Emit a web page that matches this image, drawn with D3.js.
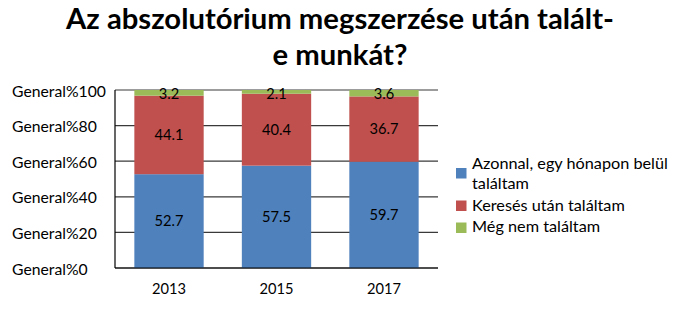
<!DOCTYPE html>
<html><head><meta charset="utf-8">
<script src="https://cdn.jsdelivr.net/npm/d3@7"></script>
<style>body{margin:0;background:#fff}svg{display:block}</style>
</head><body>
<svg id="c" width="680" height="310"></svg>
<script>
const years = ["2013", "2015", "2017"];
const seriesNames = ["Azonnal, egy hónapon belül találtam", "Keresés után találtam", "Még nem találtam"];
const legendLines = [["Azonnal, egy hónapon belül", "találtam"], ["Keresés után találtam"], ["Még nem találtam"]];
const immediate = [52.7, 57.5, 59.7];
const afterSearch = [44.1, 40.4, 36.7];
const notYet = [3.2, 2.1, 3.6];
const yTicks = [0, 20, 40, 60, 80, 100];
const tickLabels = ["General%0", "General%20", "General%40", "General%60", "General%80", "General%100"];
const colors = ["#4F81BD", "#C0504D", "#9BBB59"];
const title = ["Az abszolutórium megszerzése után talált-", "e munkát?"];

const font = "Lato, 'Open Sans', 'Liberation Sans', sans-serif";
const svg = d3.select("#c");
const pLeft = 115, pRight = 438, pTop = 90, pBottom = 268;

function fitSize(txt, target, weight) {
  const t = svg.append("text").attr("font-family", font).attr("font-size", 100)
    .attr("font-weight", weight || "normal").text(txt);
  const w = t.node().getComputedTextLength();
  t.remove();
  return 100 * target / w;
}
const titleSize = fitSize(title[0], 548, "bold");
const tickSize = fitSize(tickLabels[5], 94);
const legendSize = fitSize(legendLines[0][0], 196);
const numSize = fitSize(years[0], 34);

const x = d3.scaleBand().domain(years).range([pLeft, pRight]).paddingInner(0.355).paddingOuter(0.18);
const y = d3.scaleLinear().domain([0, 100]).range([pBottom, pTop]);

svg.append("g").selectAll("text").data(title).join("text")
  .attr("x", 340).attr("y", (d, i) => 29 + i * 36)
  .attr("text-anchor", "middle").attr("font-family", font)
  .attr("font-weight", "bold").attr("font-size", titleSize).attr("fill", "#000").text(d => d);

// gridlines
svg.append("g").selectAll("line").data(yTicks).join("line")
  .attr("x1", pLeft).attr("x2", pRight).attr("y1", d => y(d)).attr("y2", d => y(d))
  .attr("stroke", "#3a3a3a").attr("stroke-width", 1.2);

// y labels (left aligned, as in the original)
svg.append("g").selectAll("text").data(yTicks).join("text")
  .attr("x", 12).attr("y", d => y(d) + 1).attr("dy", "0.35em")
  .attr("text-anchor", "start").attr("font-family", font).attr("font-size", tickSize)
  .attr("fill", "#000").text((d, i) => tickLabels[i]);

const data = years.map((yr, i) => ({year: yr, v0: immediate[i], v1: afterSearch[i], v2: notYet[i]}));
const stack = d3.stack().keys(["v0", "v1", "v2"])(data);

const g = svg.append("g");
stack.forEach((layer, si) => {
  g.selectAll(null).data(layer).join("rect")
    .attr("x", d => x(d.data.year)).attr("width", x.bandwidth())
    .attr("y", d => y(d[1])).attr("height", d => y(d[0]) - y(d[1]))
    .attr("fill", colors[si]);
});
stack.forEach((layer, si) => {
  g.selectAll(null).data(layer).join("text")
    .attr("x", d => x(d.data.year) + x.bandwidth() / 2)
    .attr("y", d => si === 2 ? y(d[1]) + 4 : (y(d[0]) + y(d[1])) / 2)
    .attr("dy", "0.35em").attr("text-anchor", "middle")
    .attr("font-family", font).attr("font-size", numSize).attr("fill", "#000")
    .text(d => (d[1] - d[0]).toFixed(1));
});

// axes lines
svg.append("line").attr("x1", pLeft).attr("x2", pLeft).attr("y1", pTop).attr("y2", pBottom)
  .attr("stroke", "#000").attr("stroke-width", 1.2);
svg.append("line").attr("x1", pLeft).attr("x2", pRight).attr("y1", pBottom).attr("y2", pBottom)
  .attr("stroke", "#000").attr("stroke-width", 1.2);

svg.append("g").selectAll("text").data(years).join("text")
  .attr("x", d => x(d) + x.bandwidth() / 2).attr("y", 294)
  .attr("text-anchor", "middle").attr("font-family", font).attr("font-size", numSize)
  .attr("fill", "#000").text(d => d);

// legend
const lg = svg.append("g");
const legendBase = [[169, 189], [211], [232]];
const swatchY = [173, 205.5, 227.5];
legendLines.forEach((lines, i) => {
  lg.append("rect").attr("x", 456).attr("y", swatchY[i] - 5).attr("width", 10.5).attr("height", 10.5).attr("fill", colors[i]);
  lines.forEach((t, j) => {
    lg.append("text").attr("x", 472).attr("y", legendBase[i][j])
      .attr("font-family", font).attr("font-size", legendSize).attr("fill", "#000").text(t);
  });
});
</script>
</body></html>
